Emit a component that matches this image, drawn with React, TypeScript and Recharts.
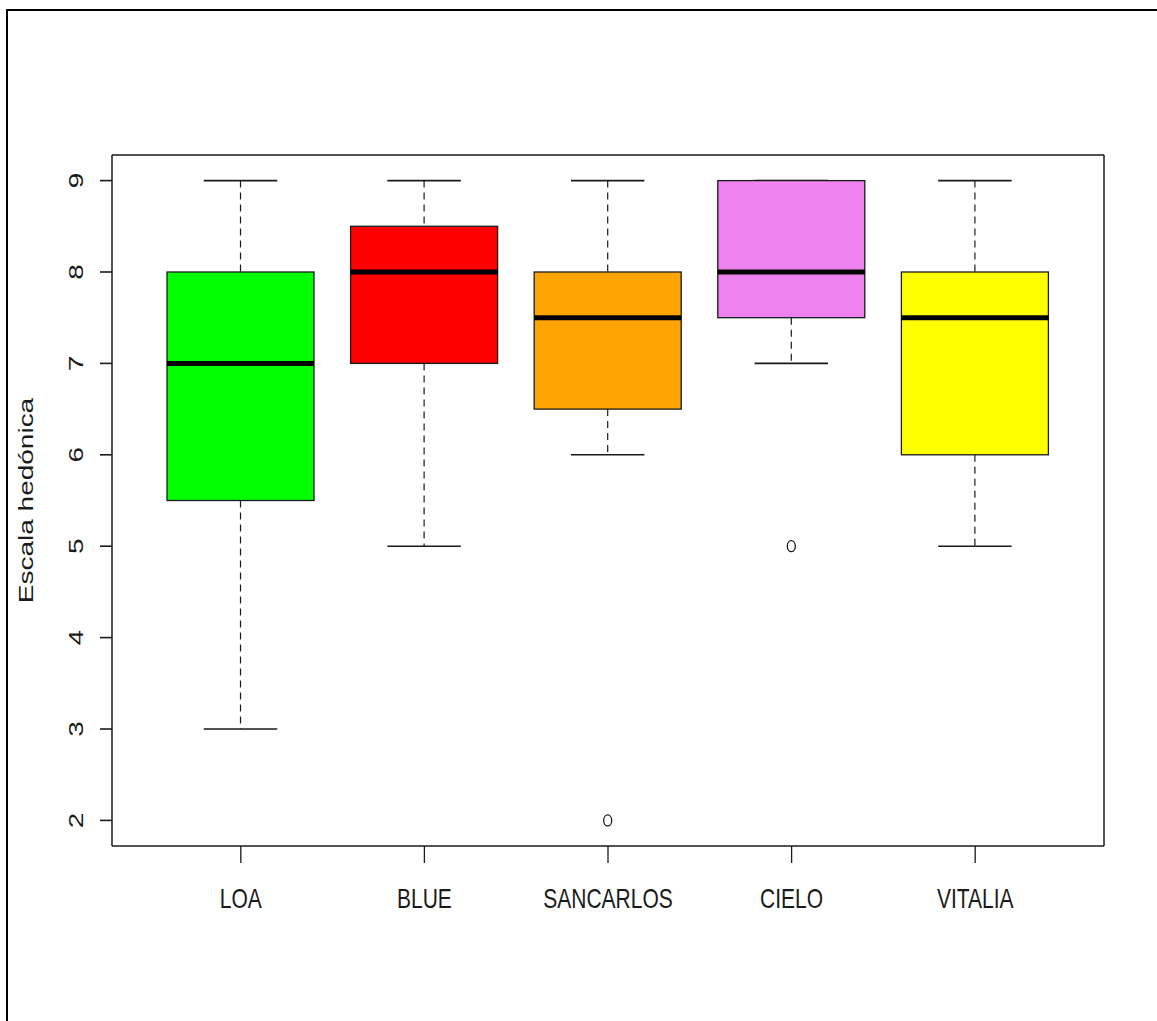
import React from 'react';
import { Bar, ComposedChart, Label, XAxis, YAxis } from 'recharts';

// box plot stats, one entry per brand
const categories = ['LOA', 'BLUE', 'SANCARLOS', 'CIELO', 'VITALIA'];
const lowerWhisker = [3, 5, 6, 7, 5];
const lowerQuartile = [5.5, 7, 6.5, 7.5, 6];
const medians = [7, 8, 7.5, 8, 7.5];
const upperQuartile = [8, 8.5, 8, 9, 8];
const upperWhisker = [9, 9, 9, 9, 9];
const outliers = [[], [], [2], [5], []];
const boxColors = ['#00FF00', '#FF0000', '#FFA500', '#EE82EE', '#FFFF00'];
const yTicks = [2, 3, 4, 5, 6, 7, 8, 9];

const FONT = '"Liberation Sans", Arial, sans-serif';
const SQUASH = 0.75; // the original picture is narrower than it is tall
const INK = '#1a1a1a';

const data = categories.map((name, i) => ({
  name,
  box: [lowerQuartile[i], upperQuartile[i]],
  lo: lowerWhisker[i],
  q1: lowerQuartile[i],
  med: medians[i],
  q3: upperQuartile[i],
  hi: upperWhisker[i],
  out: outliers[i],
  color: boxColors[i]
}));

const BoxShape = (props: any) => {
  const { x, y, width, height, payload } = props;
  const top = Math.min(y, y + height);
  const h = Math.abs(height);
  const perUnit = h / (payload.q3 - payload.q1);
  const yOf = (v: number) => top + (payload.q3 - v) * perUnit;
  const cx = x + width / 2;
  const cap = width / 4;

  return (
    <g>
      {/* whiskers */}
      <line x1={cx} x2={cx} y1={yOf(payload.hi)} y2={yOf(payload.q3)} stroke={INK} strokeWidth={1.2} strokeDasharray="7 5" />
      <line x1={cx} x2={cx} y1={yOf(payload.q1)} y2={yOf(payload.lo)} stroke={INK} strokeWidth={1.2} strokeDasharray="7 5" />
      <line x1={cx - cap} x2={cx + cap} y1={yOf(payload.hi)} y2={yOf(payload.hi)} stroke={INK} strokeWidth={1.6} />
      <line x1={cx - cap} x2={cx + cap} y1={yOf(payload.lo)} y2={yOf(payload.lo)} stroke={INK} strokeWidth={1.6} />

      {/* box */}
      <rect x={x} y={top} width={width} height={h} fill={payload.color} stroke={INK} strokeWidth={1.3} />
      <line x1={x} x2={x + width} y1={yOf(payload.med)} y2={yOf(payload.med)} stroke="#000" strokeWidth={5} />

      {payload.out.map((v: number, k: number) => (
        <ellipse key={k} cx={cx} cy={yOf(v)} rx={4} ry={5.5} fill="none" stroke={INK} strokeWidth={1.3} />
      ))}
    </g>
  );
};

const XTick = (props: any) => {
  const { x, y, payload } = props;
  return (
    <text
      transform={`translate(${x},${y}) scale(${SQUASH},1)`}
      textAnchor="middle"
      fontFamily={FONT}
      fontSize={28}
      fill={INK}
    >
      {payload.value}
    </text>
  );
};

const YTick = (props: any) => {
  const { x, y, payload } = props;
  return (
    <text
      transform={`translate(${x},${y}) scale(${SQUASH},1) rotate(-90)`}
      textAnchor="middle"
      fontFamily={FONT}
      fontSize={28}
      fill={INK}
    >
      {payload.value}
    </text>
  );
};

const YLabel = (props: any) => {
  const { viewBox } = props;
  const cx = viewBox.x + viewBox.width - 79;
  const cy = viewBox.y + viewBox.height / 2;
  return (
    <text
      transform={`translate(${cx},${cy}) scale(${SQUASH},1) rotate(-90)`}
      textAnchor="middle"
      fontFamily={FONT}
      fontSize={28}
      fill={INK}
    >
      Escala hedónica
    </text>
  );
};

export default function App() {
  return (
    <div
      style={{
        position: 'absolute',
        left: 0,
        top: 0,
        width: 1157,
        height: 1021,
        background: '#fff'
      }}
    >
      {/* outer frame of the original picture */}
      <div
        style={{
          position: 'absolute',
          left: 6,
          top: 9,
          right: 0,
          bottom: 0,
          borderLeft: '2px solid #000',
          borderTop: '2px solid #000'
        }}
      />
      <ComposedChart
        width={1157}
        height={1021}
        data={data}
        margin={{ top: 154, right: 52, bottom: 174, left: 111 }}
        style={{ position: 'absolute', left: 0, top: 0 }}
      >
        <XAxis
          dataKey="name"
          type="category"
          height={1}
          padding={{ left: 37, right: 37 }}
          axisLine={{ stroke: INK, strokeWidth: 1.5 }}
          tickLine={{ stroke: INK, strokeWidth: 1.3 }}
          tickSize={17}
          tickMargin={45}
          tick={<XTick />}
          interval={0}
        />
        <XAxis
          xAxisId="top"
          dataKey="name"
          orientation="top"
          height={1}
          axisLine={{ stroke: INK, strokeWidth: 1.5 }}
          tickLine={false}
          tick={false}
        />
        <YAxis
          type="number"
          domain={[1.72, 9.28]}
          ticks={yTicks}
          width={1}
          axisLine={{ stroke: INK, strokeWidth: 1.5 }}
          tickLine={{ stroke: INK, strokeWidth: 1.6 }}
          tickSize={12}
          tickMargin={17}
          tick={<YTick />}
          interval={0}
        >
          <Label content={<YLabel />} />
        </YAxis>
        <YAxis
          yAxisId="right"
          orientation="right"
          type="number"
          domain={[1.72, 9.28]}
          width={1}
          axisLine={{ stroke: INK, strokeWidth: 1.5 }}
          tickLine={false}
          tick={false}
        />
        <Bar
          dataKey="box"
          barSize={147}
          shape={<BoxShape />}
          isAnimationActive={false}
        />
      </ComposedChart>
    </div>
  );
}
